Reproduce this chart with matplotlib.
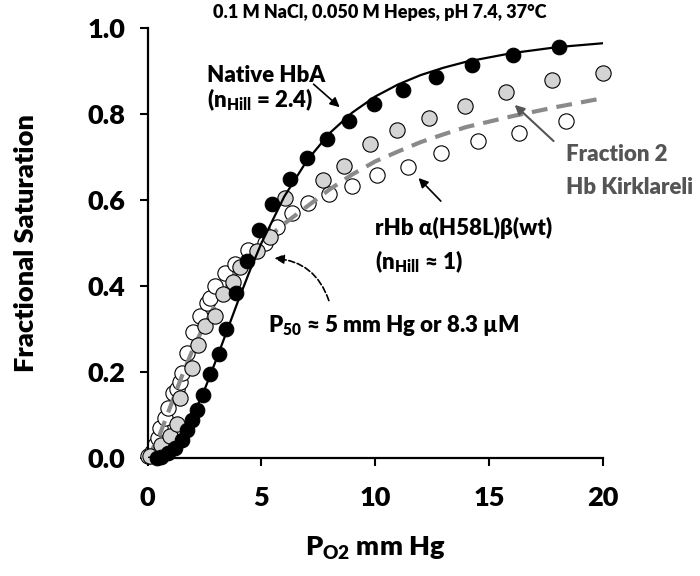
import matplotlib
matplotlib.use("Agg")
import matplotlib.pyplot as plt

W = 'heavy'
plt.rcParams['font.family'] = ['Lato', 'DejaVu Sans']
plt.rcParams['font.weight'] = W
plt.rcParams['mathtext.fontset'] = 'custom'
plt.rcParams['mathtext.rm'] = 'Lato:heavy'
plt.rcParams['mathtext.bf'] = 'Lato:heavy'
plt.rcParams['mathtext.it'] = 'Lato:heavy'

# Native HbA (filled black)
hba_x = [0.4, 0.6, 0.88, 1.19, 1.49, 1.71, 1.93, 2.15, 2.42, 2.73, 3.12, 3.45, 3.87,
         4.35, 4.88, 5.47, 6.24, 6.99, 7.87, 8.84, 9.93, 11.2, 12.66, 14.24, 16.04, 18.1]
hba_y = [0.0, 0.003, 0.012, 0.023, 0.042, 0.065, 0.088, 0.112, 0.147, 0.195, 0.242, 0.30, 0.384,
         0.458, 0.53, 0.59, 0.649, 0.698, 0.742, 0.784, 0.823, 0.856, 0.886, 0.914, 0.937, 0.956]

# Fraction 2 Hb Kirklareli (gray filled)
kirk_x = [0.1, 0.6, 1.0, 1.27, 1.41, 1.93, 2.2, 2.5, 2.95, 3.3, 3.74, 4.04, 4.79, 5.36,
          6.02, 7.7, 8.63, 9.78, 10.97, 12.38, 13.93, 15.74, 17.76, 20.0]
kirk_y = [0.005, 0.03, 0.052, 0.08, 0.14, 0.21, 0.263, 0.307, 0.33, 0.381, 0.41, 0.444, 0.482, 0.514,
          0.606, 0.647, 0.68, 0.73, 0.764, 0.792, 0.819, 0.851, 0.879, 0.895]

# rHb a(H58L)b(wt) (open)
rhb_x = [0.0, 0.18, 0.31, 0.44, 0.53, 0.75, 0.88, 1.1, 1.27, 1.41, 1.5, 1.71, 1.98, 2.3, 2.6, 2.73,
         2.95, 3.38, 3.82, 4.4, 5.14, 5.67, 6.33, 7.03, 7.96, 9.0, 10.1, 11.43, 12.9, 14.5, 16.3, 18.4]
rhb_y = [0.005, 0.014, 0.03, 0.047, 0.07, 0.093, 0.116, 0.151, 0.16, 0.177, 0.198, 0.245, 0.293, 0.33,
         0.36, 0.372, 0.40, 0.43, 0.452, 0.484, 0.50, 0.537, 0.57, 0.593, 0.614, 0.633, 0.658, 0.677,
         0.709, 0.737, 0.756, 0.784]

# fitted curves
fit_x = [0, 0.5, 1, 1.5, 2, 2.5, 3, 3.5, 4, 4.5, 5, 6, 7, 8, 9, 10, 11, 12, 13, 14, 16, 18, 20]
hba_fit = [0, 0.004, 0.021, 0.053, 0.100, 0.159, 0.227, 0.298, 0.369, 0.437, 0.500, 0.608, 0.692,
           0.756, 0.804, 0.841, 0.869, 0.891, 0.908, 0.922, 0.942, 0.956, 0.965]
kirk_fit = [0, 0.05, 0.12, 0.19, 0.255, 0.31, 0.36, 0.40, 0.44, 0.47, 0.50, 0.545, 0.585, 0.625,
            0.66, 0.69, 0.713, 0.735, 0.753, 0.77, 0.795, 0.817, 0.837]

x_ticks = [0, 5, 10, 15, 20]
y_ticks = [0.0, 0.2, 0.4, 0.6, 0.8, 1.0]

fig = plt.figure(figsize=(7, 5.76), dpi=100)
ax = fig.add_axes([0.211, 0.205, 0.650, 0.746])

ax.plot(rhb_x, rhb_y, 'o', ms=11, mfc='white', mec='black', mew=0.8, clip_on=False, zorder=2)
ax.plot(fit_x, kirk_fit, '--', color='#8a8a8a', lw=3, dashes=(3.8, 2.2), zorder=3)
ax.plot(kirk_x, kirk_y, 'o', ms=11, mfc='#d4d4d4', mec='black', mew=0.8, clip_on=False, zorder=4)
ax.plot(fit_x, hba_fit, '-', color='black', lw=1.6, zorder=5)
ax.plot(hba_x, hba_y, 'o', ms=10.5, mfc='black', mec='black', mew=0.8, clip_on=False, zorder=6)

ax.set_xlim(0, 20)
ax.set_ylim(0, 1)
ax.set_xticks(x_ticks)
ax.set_yticks(y_ticks)
ax.set_yticklabels([f"{v:.1f}" for v in y_ticks])
for s in ['top', 'right']:
    ax.spines[s].set_visible(False)
for s in ['left', 'bottom']:
    ax.spines[s].set_linewidth(1.6)
ax.tick_params(axis='both', direction='out', length=6, width=1.5, labelsize=19.5)
ax.tick_params(axis='y', pad=10)
ax.tick_params(axis='x', pad=14)
for lab in ax.get_xticklabels() + ax.get_yticklabels():
    lab.set_fontweight(W)

ax.set_ylabel("Fractional Saturation", fontsize=19.5, fontweight=W, labelpad=36)
ax.set_xlabel(r"P$_{\rm O2}$ mm Hg", fontsize=19.5, fontweight=W, labelpad=18)

fig.text(0.543, 0.979, "0.1 M NaCl, 0.050 M Hepes, pH 7.4, 37°C", ha='center', va='center',
         fontsize=13, fontweight=W)

fs = 16
ax.text(2.6, 0.89, "Native HbA", fontsize=fs, fontweight=W, ha='left', va='center')
ax.text(2.6, 0.833, r"(n$_{\rm Hill}$ = 2.4)", fontsize=fs, fontweight=W, ha='left', va='center')
ax.annotate("", xy=(8.53, 0.812), xytext=(7.2, 0.874),
            arrowprops=dict(arrowstyle='-|>', color='black', lw=1.2, mutation_scale=14))

ax.text(18.4, 0.705, "Fraction 2", fontsize=fs, fontweight=W, color='#555555',
        ha='left', va='center', clip_on=False)
ax.text(18.4, 0.630, "Hb Kirklareli", fontsize=fs, fontweight=W, color='#555555',
        ha='left', va='center', clip_on=False)
ax.annotate("", xy=(16.04, 0.826), xytext=(17.93, 0.733),
            arrowprops=dict(arrowstyle='-|>', color='#555555', lw=1.5, mutation_scale=14))

ax.text(9.98, 0.535, "rHb α(H58L)β(wt)", fontsize=fs, fontweight=W, ha='left', va='center')
ax.text(9.98, 0.456, r"(n$_{\rm Hill}$ ≈ 1)", fontsize=fs, fontweight=W, ha='left', va='center')
ax.annotate("", xy=(11.82, 0.656), xytext=(12.97, 0.593),
            arrowprops=dict(arrowstyle='-|>', color='black', lw=1.2, mutation_scale=14))

ax.text(5.27, 0.309, r"P$_{\rm 50}$ ≈ 5 mm Hg or 8.3 µM", fontsize=fs, fontweight=W,
        ha='left', va='center')
ax.annotate("", xy=(5.45, 0.465), xytext=(8.0, 0.36),
            arrowprops=dict(arrowstyle='-|>', color='black', lw=1.2, ls='--', mutation_scale=14,
                            connectionstyle='arc3,rad=0.35'))

fig.savefig('out.png', dpi=100)
